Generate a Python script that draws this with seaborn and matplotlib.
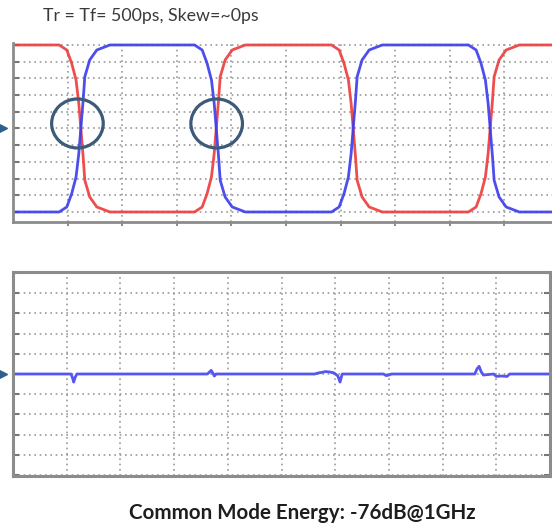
import numpy as np
import pandas as pd
import seaborn as sns
import matplotlib.pyplot as plt
from matplotlib.patches import Ellipse

# ---------------- data ----------------
title_text = "Tr = Tf= 500ps, Skew=~0ps"
footer_text = "Common Mode Energy: -76dB@1GHz"

# edge instants (graticule divisions) of the differential pair
edge_times = [1.245, 3.725, 6.233, 8.742]
# shape of one falling edge: offset from the crossing (div) and level (div)
edge_dx = [-0.40, -0.26, -0.17, -0.09, -0.04, 0.0, 0.04, 0.07, 0.16, 0.29, 0.53]
edge_fall = [10.0, 9.7, 8.9, 7.9, 6.5, 4.9, 3.3, 1.9, 0.9, 0.3, 0.0]
level_high = 10.0
level_low = 0.0
trace_end = 10.0

# common-mode trace (bottom scope)
cm_x = [0, 1.08, 1.11, 1.13, 1.16, 1.19, 3.62, 3.66, 3.69, 3.72, 3.75, 3.78,
        5.62, 5.68, 5.75, 5.82, 5.90, 5.98, 6.05, 6.09, 6.13, 6.90, 6.95, 7.00,
        7.05, 8.60, 8.64, 8.68, 8.72, 8.76, 8.95, 9.00, 9.10, 9.20, 9.25, 10]
cm_y = [5, 5, 4.8, 4.6, 4.85, 5, 5, 5.1, 5.18, 5.05, 4.9, 5,
        5, 5.05, 5.08, 5.12, 5.10, 5.05, 4.9, 4.6, 5, 5, 4.92, 4.95,
        5, 5, 5.25, 5.38, 5.1, 4.95, 5, 4.88, 4.9, 4.88, 5, 5]

# ground reference level of each scope (div)
ground_top = 5.0
ground_bottom = 5.0

# highlighted crossings (div)
circle_x = [1.18, 3.73]
circle_y = [5.3, 5.3]


def build_trace(start_high):
    xs, ys = [0.0], [level_high if start_high else level_low]
    high = start_high
    for t in edge_times:
        for dx, lv in zip(edge_dx, edge_fall):
            xs.append(t + dx)
            ys.append(lv if high else level_high - lv)
        high = not high
    xs.append(trace_end)
    ys.append(ys[-1])
    return pd.DataFrame({"t": xs, "v": ys})


red_df = build_trace(True)
blue_df = build_trace(False)
cm_df = pd.DataFrame({"t": cm_x, "v": cm_y})

# ---------------- style ----------------
sns.set_theme(style="white")
plt.rcParams["font.family"] = ["Lato", "DejaVu Sans"]

W, H = 552, 526
fig = plt.figure(figsize=(W / 100, H / 100), dpi=100)

grid_kw = dict(color="#9a9a9a", linewidth=1.2, linestyle=(0, (1, 2.2)))
frame_col = "#8c8c8c"
marker_col = "#2e5f8e"

# ---- top scope ----
ax1 = fig.add_axes([13 / W, (H - 222) / H, 539 / W, 179 / H])
sns.lineplot(data=red_df, x="t", y="v", ax=ax1, color="#ec3b3b", linewidth=2.0,
             estimator=None, sort=False, alpha=0.9)
sns.lineplot(data=blue_df, x="t", y="v", ax=ax1, color="#3a3cec", linewidth=2.0,
             estimator=None, sort=False, alpha=0.9)
x1max = 539 / 54.6
ax1.set_xlim(0, x1max)
ax1.set_ylim(-0.6, -0.6 + 179 / 16.7)
ax1.set_xticks(np.arange(1, 10))
ax1.set_yticks(np.arange(0, 11))
ax1.grid(True, **grid_kw)
for s in ["top", "right"]:
    ax1.spines[s].set_visible(False)
for s in ["left", "bottom"]:
    ax1.spines[s].set_color(frame_col)
    ax1.spines[s].set_linewidth(2.0)
ax1.tick_params(axis="y", direction="in", length=4, width=1.5, color="#777777",
                left=True, labelleft=False)
ax1.tick_params(axis="x", direction="out", length=3, width=1.2, color="#777777",
                bottom=True, labelbottom=False)
ax1.set_xlabel("")
ax1.set_ylabel("")

for cx, cy in zip(circle_x, circle_y):
    ax1.add_patch(Ellipse((cx, cy), 51.6 / 54.6, 49 / 16.7, fill=False,
                          edgecolor="#3d5a78", linewidth=2.3, zorder=5))

# ground marker (partially outside, like the scope screenshot)
ax1.plot([-11 / 54.6], [ground_top], marker=">", markersize=7, color=marker_col,
         clip_on=False, linestyle="none")

# ---- bottom scope ----
ax2 = fig.add_axes([13 / W, (H - 476) / H, 537 / W, 204 / H])
sns.lineplot(data=cm_df, x="t", y="v", ax=ax2, color="#5656f0", linewidth=2.0,
             estimator=None, sort=False)
ax2.set_xlim(0, 10)
ax2.set_ylim(-0.05, 10.05)
ax2.set_xticks(np.arange(1, 10))
ax2.set_yticks(np.arange(0, 11))
ax2.grid(True, **grid_kw)
for s in ax2.spines.values():
    s.set_color(frame_col)
    s.set_linewidth(2.2)
ax2.tick_params(axis="y", direction="in", length=4, width=1.5, color="#777777",
                left=True, right=True, labelleft=False)
ax2.tick_params(axis="x", direction="in", length=0, labelbottom=False)
ax2.set_xlabel("")
ax2.set_ylabel("")
ax2.plot([-11 / 53.7], [ground_bottom], marker=">", markersize=7, color=marker_col,
         clip_on=False, linestyle="none")

# texts
fig.text(43 / W, (H - 21) / H, title_text, color="#3a3a3a", fontsize=12.8,
         ha="left", va="baseline")
fig.text(302 / W, (H - 519) / H, footer_text, color="#1e1e1e", fontsize=14.8,
         fontweight="bold", ha="center", va="baseline")

fig.savefig("out.png", dpi=100)
